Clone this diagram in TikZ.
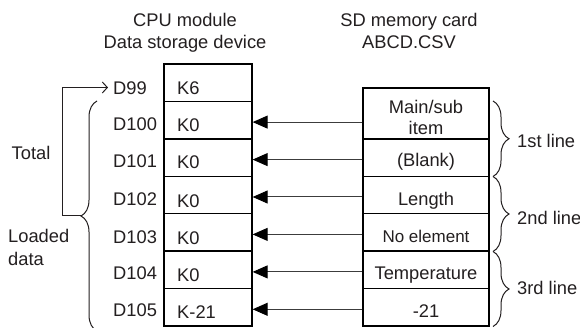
\documentclass[tikz,border=0pt]{standalone}
\usepackage{fontspec}
\setmainfont{Liberation Sans}
\usetikzlibrary{arrows.meta,decorations.pathreplacing}
\definecolor{txt}{HTML}{231F20}
\definecolor{arrline}{HTML}{3C3C3C}
\begin{document}
\begin{tikzpicture}[x=1pt,y=-1pt,
  lbl/.style={font=\fontsize{18.3}{22}\selectfont, inner sep=0pt, text height=13.1pt, text depth=0pt, text=txt},
  small/.style={lbl, font=\fontsize{17}{20}\selectfont, text height=12.2pt},
  lcell/.style={draw, line width=1.3pt, minimum width=88pt, minimum height=37.43pt, inner sep=0pt},
  rcell/.style={draw, line width=1.3pt, minimum width=126pt, minimum height=37.43pt, inner sep=0pt},
  arr/.style={draw=arrline, line width=1pt, -{Triangle[length=15pt,width=13pt,color=black]}},
  brc/.style={draw=txt, line width=1pt, decorate, decoration={brace, amplitude=16pt, aspect=0.5}},
  tot/.style={draw=txt, line width=1pt, -{Straight Barb[length=5pt,width=11pt]}}]
\clip (0,0) rectangle (580,328);
\fill[white] (0,0) rectangle (580,328);

% titles
\node[lbl] (t1) at (185,20) {CPU module};
\node[lbl] (t2) at (185,42) {Data storage device};
\node[lbl] (t3) at (409,20) {SD memory card};
\node[lbl] (t4) at (409,42) {ABCD.CSV};

% left table
\node[lcell] (l0) at (208,82.7) {};
\node[lcell] (l1) at (208,120.1) {};
\node[lcell] (l2) at (208,157.6) {};
\node[lcell] (l3) at (208,195.0) {};
\node[lcell] (l4) at (208,232.4) {};
\node[lcell] (l5) at (208,269.9) {};
\node[lcell] (l6) at (208,307.3) {};

% device labels
\node[lbl, anchor=west] (d0) at (113,87.5) {D99};
\node[lbl, anchor=west] (d1) at (113,123.5) {D100};
\node[lbl, anchor=west] (d2) at (113,161) {D101};
\node[lbl, anchor=west] (d3) at (113,199) {D102};
\node[lbl, anchor=west] (d4) at (113,236.5) {D103};
\node[lbl, anchor=west] (d5) at (113,273) {D104};
\node[lbl, anchor=west] (d6) at (113,309.5) {D105};

% values
\node[lbl, anchor=west] (k0) at (177,88) {K6};
\node[lbl, anchor=west] (k1) at (177,125) {K0};
\node[lbl, anchor=west] (k2) at (177,162) {K0};
\node[lbl, anchor=west] (k3) at (177,200.5) {K0};
\node[lbl, anchor=west] (k4) at (177,237.5) {K0};
\node[lbl, anchor=west] (k5) at (177,275) {K0};
\node[lbl, anchor=west] (k6) at (177,312) {K-21};

% right table
\node[rcell, minimum height=50.9pt] (r1) at (426,113.45) {};
\node[rcell] (r2) at (426,157.6) {};
\node[rcell] (r3) at (426,195.0) {};
\node[rcell] (r4) at (426,232.4) {};
\node[rcell] (r5) at (426,269.9) {};
\node[rcell] (r6) at (426,307.3) {};

\node[lbl] (s1a) at (426,107) {Main/sub};
\node[lbl] (s1b) at (426,128) {item};
\node[lbl] (s2) at (426,160) {(Blank)};
\node[lbl] (s3) at (426,199) {Length};
\node[small] (s4) at (426,236.5) {No element};
\node[lbl] (s5) at (426,273) {Temperature};
\node[lbl] (s6) at (426,311) {-21};

% arrows
\draw[arr] ([yshift=-2pt]r1.west |- l1.east) -- ([yshift=-2pt]l1.east);
\draw[arr] ([yshift=-2pt]r2.west) -- ([yshift=-2pt]l2.east);
\draw[arr] ([yshift=-2pt]r3.west) -- ([yshift=-2pt]l3.east);
\draw[arr] ([yshift=-2pt]r4.west) -- ([yshift=-2pt]l4.east);
\draw[arr] ([yshift=-2pt]r5.west) -- ([yshift=-2pt]l5.east);
\draw[arr] ([yshift=-2pt]r6.west) -- ([yshift=-2pt]l6.east);

% left brace and total
\draw[brc] (97,331) -- (97,101);
\coordinate (bt) at (81,216);
\coordinate (tc) at (62,216);
\draw[tot] (bt) -- (tc) |- ([xshift=-5pt]d0.west);
\node[lbl] (total) at (31,153) {Total};
\node[lbl, anchor=west] (ld1) at (8,236) {Loaded};
\node[lbl, anchor=west] (ld2) at (8,259) {data};

% right braces
\draw[brc] (493,101) -- (493,176.5);
\draw[brc] (493,176.5) -- (493,251.5);
\draw[brc] (493,251.5) -- (493,326.5);
\node[lbl, anchor=west] (ln1) at (517,141) {1st line};
\node[lbl, anchor=west] (ln2) at (517,218) {2nd line};
\node[lbl, anchor=west] (ln3) at (517,288) {3rd line};
\end{tikzpicture}
\end{document}
